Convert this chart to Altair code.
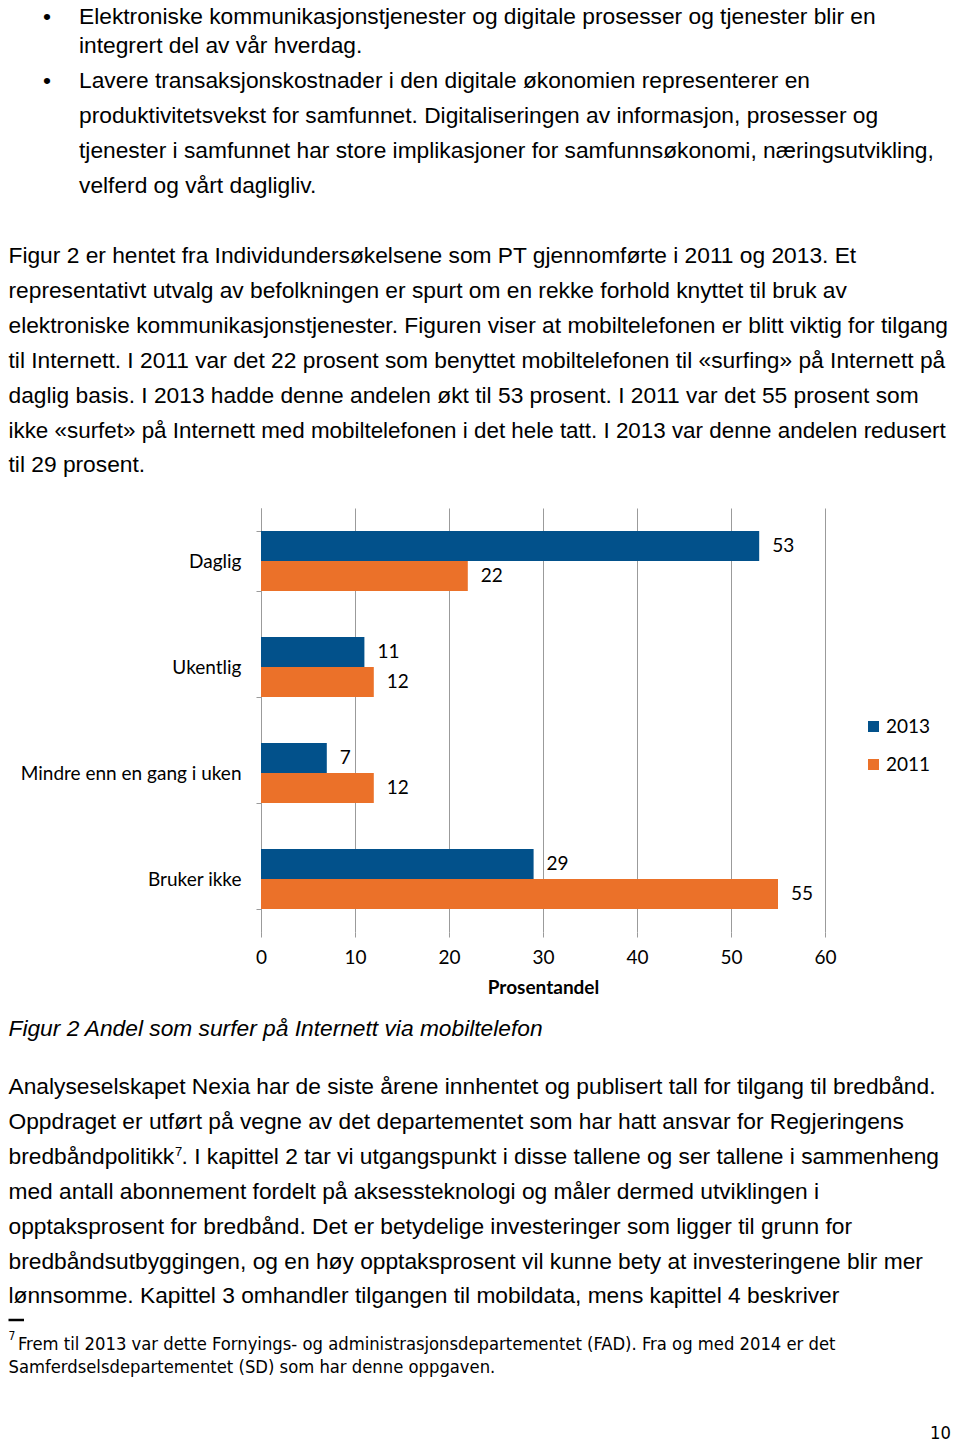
import altair as alt
import pandas as pd

# ---------------- data ----------------
categories = ["Daglig", "Ukentlig", "Mindre enn en gang i uken", "Bruker ikke"]
years = ["2013", "2011"]
values_2013 = [53, 11, 7, 29]
values_2011 = [22, 12, 12, 55]
x_ticks = [0, 10, 20, 30, 40, 50, 60]
x_title = "Prosentandel"

bullet_lines = [
    "Elektroniske kommunikasjonstjenester og digitale prosesser og tjenester blir en",
    "integrert del av vår hverdag.",
    "Lavere transaksjonskostnader i den digitale økonomien representerer en",
    "produktivitetsvekst for samfunnet. Digitaliseringen av informasjon, prosesser og",
    "tjenester i samfunnet har store implikasjoner for samfunnsøkonomi, næringsutvikling,",
    "velferd og vårt dagligliv.",
]
bullet_starts = [0, 2]

para1_lines = [
    "Figur 2 er hentet fra Individundersøkelsene som PT gjennomførte i 2011 og 2013. Et",
    "representativt utvalg av befolkningen er spurt om en rekke forhold knyttet til bruk av",
    "elektroniske kommunikasjonstjenester. Figuren viser at mobiltelefonen er blitt viktig for tilgang",
    "til Internett. I 2011 var det 22 prosent som benyttet mobiltelefonen til «surfing» på Internett på",
    "daglig basis. I 2013 hadde denne andelen økt til 53 prosent. I 2011 var det 55 prosent som",
    "ikke «surfet» på Internett med mobiltelefonen i det hele tatt. I 2013 var denne andelen redusert",
    "til 29 prosent.",
]

caption = "Figur 2 Andel som surfer på Internett via mobiltelefon"

para2_lines = [
    "Analyseselskapet Nexia har de siste årene innhentet og publisert tall for tilgang til bredbånd.",
    "Oppdraget er utført på vegne av det departementet som har hatt ansvar for Regjeringens",
    "bredbåndpolitikk",
    "med antall abonnement fordelt på aksessteknologi og måler dermed utviklingen i",
    "opptaksprosent for bredbånd. Det er betydelige investeringer som ligger til grunn for",
    "bredbåndsutbyggingen, og en høy opptaksprosent vil kunne bety at investeringene blir mer",
    "lønnsomme. Kapittel 3 omhandler tilgangen til mobildata, mens kapittel 4 beskriver",
]
para2_line3_rest = ". I kapittel 2 tar vi utgangspunkt i disse tallene og ser tallene i sammenheng"
footnote_mark = "7"
footnote_lines = [
    "Frem til 2013 var dette Fornyings- og administrasjonsdepartementet (FAD). Fra og med 2014 er det",
    "Samferdselsdepartementet (SD) som har denne oppgaven.",
]
page_number = "10"

# ---------------- styles ----------------
BODY_FONT = "Liberation Sans, Arial, sans-serif"
NARROW_FONT = "'Liberation Sans Narrow', 'Arial Narrow', 'DejaVu Sans Condensed', sans-serif"
CHART_FONT = "Lato"
BODY_SIZE = 22.75
NOTE_SIZE = 18.25
CHART_SIZE = 19
BLUE = "#02518B"
ORANGE = "#EB7129"
GRID = "#9B9B9B"

X0, Y0 = 261, 508          # page position of plot origin
PLOT_W, PLOT_H = 564, 424
SVG_W, SVG_H = 944, 1436
LINE = 34.9
LEFT = 8.5


def T(s, px, py, size=BODY_SIZE, font=BODY_FONT, italic=False, bold=False, align="left"):
    kw = dict(align=align, baseline="alphabetic", fontSize=size, font=font, color="black")
    if italic:
        kw["fontStyle"] = "italic"
    if bold:
        kw["fontWeight"] = "bold"
    return alt.Chart(alt.Data(values=[{"t": s}])).mark_text(**kw).encode(
        text=alt.Text("t:N"), x=alt.value(px - X0), y=alt.value(py - Y0)
    )


layers = []

# ---------------- chart ----------------
rows = []
for c, a, b in zip(categories, values_2013, values_2011):
    rows.append({"cat": c, "year": "2013", "value": a})
    rows.append({"cat": c, "year": "2011", "value": b})
df = pd.DataFrame(rows)

base = alt.Chart(df).encode(
    y=alt.Y(
        "cat:N",
        sort=categories,
        scale=alt.Scale(paddingInner=0.434, paddingOuter=0.217),
        axis=alt.Axis(
            title=None, tickBand="extent", tickSize=5, tickColor=GRID,
            domainColor=GRID, labelFont=CHART_FONT, labelFontSize=CHART_SIZE,
            labelColor="black", labelPadding=15, labelLimit=400, grid=False,
        ),
    ),
    x=alt.X(
        "value:Q",
        scale=alt.Scale(domain=[0, 60], nice=False),
        axis=alt.Axis(
            values=x_ticks, grid=True, gridColor=GRID, gridWidth=1, domain=False,
            tickSize=5, tickColor=GRID, labelFont=CHART_FONT, labelFontSize=CHART_SIZE,
            labelColor="black", labelPadding=11, labelFlush=False, title=x_title,
            titleFont=CHART_FONT, titleFontSize=CHART_SIZE, titleFontWeight="bold",
            titleColor="black", titlePadding=11,
        ),
    ),
    yOffset=alt.YOffset("year:N", sort=years),
)

bars = base.mark_bar().encode(
    color=alt.Color(
        "year:N",
        scale=alt.Scale(domain=years, range=[BLUE, ORANGE]),
        legend=alt.Legend(
            title=None, orient="none", legendX=603, legendY=209, symbolType="square",
            symbolSize=121, symbolStrokeWidth=0, labelFont=CHART_FONT,
            labelFontSize=CHART_SIZE, labelColor="black", rowPadding=18,
            labelOffset=3, padding=0,
        ),
    )
)
labels = base.mark_text(
    align="left", baseline="middle", dx=13, font=CHART_FONT, fontSize=CHART_SIZE, color="black"
).encode(text=alt.Text("value:Q"))

layers += [bars, labels]

# ---------------- page text ----------------
bullet_baselines = [24, 53, 88, 123, 158, 193]
for s, y in zip(bullet_lines, bullet_baselines):
    layers.append(T(s, 79, y))
for i in bullet_starts:
    layers.append(T("•", 47, bullet_baselines[i], align="center"))

for i, s in enumerate(para1_lines):
    size = 22.4 if i == 5 else BODY_SIZE   # longest line kept inside the page edge
    layers.append(T(s, LEFT, 263 + LINE * i, size=size))

layers.append(T(caption, LEFT, 1036, italic=True))

for i, s in enumerate(para2_lines):
    layers.append(T(s, LEFT, 1094 + LINE * i))
layers.append(T(footnote_mark, 175, 1094 + LINE * 2 - 8, size=13))
layers.append(T(para2_line3_rest, 181.5, 1094 + LINE * 2))

# footnote separator
sep = alt.Chart(alt.Data(values=[{"a": 1}])).mark_rule(color="black", strokeWidth=2.5).encode(
    x=alt.value(LEFT - X0), x2=alt.value(24 - X0), y=alt.value(1320 - Y0)
)
layers.append(sep)
layers.append(T(footnote_mark, LEFT, 1340, size=12, font=NARROW_FONT))
layers.append(T(footnote_lines[0], 18, 1350, size=NOTE_SIZE, font=NARROW_FONT))
layers.append(T(footnote_lines[1], LEFT, 1373, size=NOTE_SIZE, font=NARROW_FONT))
layers.append(T(page_number, 951, 1439, size=NOTE_SIZE, font=NARROW_FONT, align="right"))

chart = alt.layer(*layers).properties(
    width=PLOT_W,
    height=PLOT_H,
    padding={"left": X0 - 8, "top": Y0 - 8, "right": SVG_W - (X0 - 8) - PLOT_W,
             "bottom": SVG_H - (Y0 - 8) - PLOT_H},
    autosize=alt.AutoSizeParams(type="none"),
).configure_view(strokeWidth=0)

chart.save("out.html", embed_options={"renderer": "svg", "actions": False})
